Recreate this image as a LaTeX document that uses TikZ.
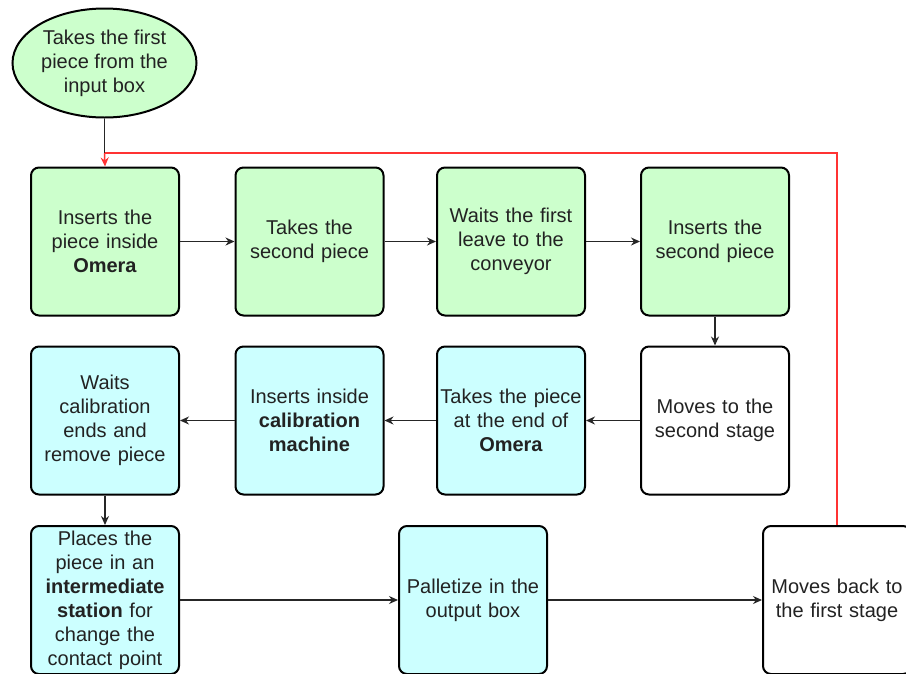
\documentclass[tikz,border=0pt]{standalone}
\usepackage{fontspec}
\setmainfont{Liberation Sans}
\usetikzlibrary{shapes.geometric,arrows.meta}
\definecolor{stepgreen}{HTML}{CCFFCC}
\definecolor{stepcyan}{HTML}{CCFFFF}
\definecolor{loopred}{HTML}{FF3333}
\definecolor{txt}{HTML}{222222}
\tikzset{
  stepbox/.style={draw=black, line width=2pt, rounded corners=8pt,
    minimum width=148pt, minimum height=148pt, inner sep=0pt,
    text width=146pt, align=center, text=txt,
    font=\fontsize{20}{24}\selectfont},
  greenbox/.style={stepbox, fill=stepgreen},
  cyanbox/.style={stepbox, fill=stepcyan},
  whitebox/.style={stepbox, fill=white},
  startnode/.style={ellipse, draw=black, line width=2pt, fill=stepgreen,
    minimum width=184pt, minimum height=109pt, inner sep=0pt},
  steptext/.style={align=center, text=txt, inner sep=0pt,
    font=\fontsize{20}{24}\selectfont},
  flow/.style={draw=black!85, line width=1.3pt, -{Stealth[length=9pt,width=8pt]}},
  loop/.style={draw=loopred, line width=1.5pt},
}
\begin{document}
\begin{tikzpicture}[x=1pt,y=-1pt]
\clip (0,0) rectangle (906,673);
\fill[white] (0,0) rectangle (906,673);

% start
\node[startnode] (start) at (104.5,63) {};
\node[steptext] (starttext) at (start.center) {Takes the first\\piece from the\\input box};

% first row
\node[greenbox] (b1) at (105,241.5) {Inserts the\\piece inside\\\textbf{Omera}};
\node[greenbox] (b2) at (309.5,241.5) {Takes the\\second piece};
\node[greenbox] (b3) at (511,241.5) {Waits the first\\leave to the\\conveyor};
\node[greenbox] (b4) at (715,241.5) {Inserts the\\second piece};

% second row
\node[whitebox] (b8) at (715,420.5) {Moves to the\\second stage};
\node[cyanbox] (b7) at (511,420.5) {Takes the piece\\at the end of\\\textbf{Omera}};
\node[cyanbox] (b6) at (309.5,420.5) {Inserts inside\\\textbf{calibration}\\\textbf{machine}};
\node[cyanbox] (b5) at (105,420.5) {Waits\\calibration\\ends and\\remove piece};

% third row
\node[cyanbox] (b9) at (105,600) {Places the\\piece in an\\\textbf{intermediate}\\\textbf{station} for\\change the\\contact point};
\node[cyanbox] (b10) at (473,600) {Palletize in the\\output box};
\node[whitebox] (b11) at (837,600) {Moves back to\\the first stage};

% connectors
\coordinate (join) at (104.5,153);
\draw[draw=black!85, line width=1.3pt] (start.south) -- (join);
\draw[loop] (b11.north) |- (join);
\draw[loop, -{Stealth[length=9pt,width=8pt]}] (join) -- (b1.north);

\draw[flow] (b1) -- (b2);
\draw[flow] (b2) -- (b3);
\draw[flow] (b3) -- (b4);
\draw[flow] (b4) -- (b8);
\draw[flow] (b8) -- (b7);
\draw[flow] (b7) -- (b6);
\draw[flow] (b6) -- (b5);
\draw[flow] (b5) -- (b9);
\draw[flow] (b9) -- (b10);
\draw[flow] (b10) -- (b11);
\end{tikzpicture}
\end{document}
